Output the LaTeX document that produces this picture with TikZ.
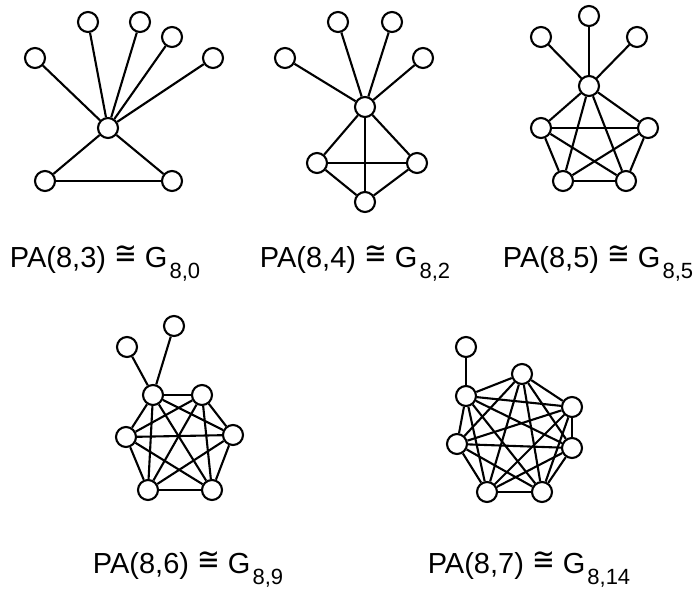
\documentclass[tikz,border=0pt]{standalone}
\usepackage{fontspec}
\setmainfont{Liberation Sans}
\newfontfamily\symfont{DejaVu Sans}
\usetikzlibrary{backgrounds}

\newcommand{\iso}{\raisebox{3pt}{\scalebox{0.85}[1.0]{\fontsize{32}{32}\selectfont\symfont ≅}}}
\newcommand{\pa}[2]{\fontsize{29}{30}\selectfont PA(8,#1) \iso{} G\kern2pt\raisebox{-11pt}{\fontsize{22}{22}\selectfont #2}}

\tikzset{
  vtx/.style={draw, circle, fill=white, minimum size=20pt, inner sep=0pt, line width=2.1pt},
  edge/.style={line width=2.1pt},
  lbl/.style={anchor=base, inner sep=0pt}
}

\begin{document}
\begin{tikzpicture}[x=1pt,y=-1pt]
\useasboundingbox (0,0) rectangle (696,594);

% PA(8,3)
\node[vtx] (a1) at (35,58) {};
\node[vtx] (a2) at (88,22) {};
\node[vtx] (a3) at (140,22) {};
\node[vtx] (a4) at (172,37) {};
\node[vtx] (a5) at (213,58) {};
\node[vtx] (ah) at (108,128) {};
\node[vtx] (al) at (45,181) {};
\node[vtx] (ar) at (172,181) {};
\begin{scope}[on background layer]
\foreach \v in {a1,a2,a3,a4,a5,al,ar} \draw[edge] (ah) -- (\v);
\draw[edge] (al) -- (ar);
\end{scope}
\node[lbl] (la) at (105,267) {\pa{3}{8,0}};

% PA(8,4)
\node[vtx] (b1) at (285,58) {};
\node[vtx] (b2) at (338,22) {};
\node[vtx] (b3) at (392,22) {};
\node[vtx] (b4) at (423,58) {};
\node[vtx] (bh) at (365,107) {};
\node[vtx] (bl) at (317,163) {};
\node[vtx] (br) at (417,163) {};
\node[vtx] (bb) at (365,202) {};
\begin{scope}[on background layer]
\foreach \v in {b1,b2,b3,b4,bl,br,bb} \draw[edge] (bh) -- (\v);
\draw[edge] (bl) -- (br);
\draw[edge] (bl) -- (bb) -- (br);
\end{scope}
\node[lbl] (lb) at (355,267) {\pa{4}{8,2}};

% PA(8,5)
\node[vtx] (c1) at (541,37) {};
\node[vtx] (c2) at (589,16) {};
\node[vtx] (c3) at (637,37) {};
\node[vtx] (ch) at (589,86) {};
\node[vtx] (cl) at (541,128) {};
\node[vtx] (cr) at (648,128) {};
\node[vtx] (cbl) at (563,181) {};
\node[vtx] (cbr) at (626,181) {};
\begin{scope}[on background layer]
\foreach \v in {c1,c2,c3} \draw[edge] (ch) -- (\v);
\foreach \u/\v in {ch/cl,ch/cr,ch/cbl,ch/cbr,cl/cr,cl/cbl,cl/cbr,cr/cbl,cr/cbr,cbl/cbr}
  \draw[edge] (\u) -- (\v);
\end{scope}
\node[lbl] (lc) at (598,267) {\pa{5}{8,5}};

% PA(8,6)
\node[vtx] (d1) at (127,347) {};
\node[vtx] (d2) at (174,326) {};
\node[vtx] (dn1) at (153,395) {};
\node[vtx] (dn2) at (202,395) {};
\node[vtx] (dn3) at (233,435) {};
\node[vtx] (dn4) at (212,490) {};
\node[vtx] (dn5) at (148,490) {};
\node[vtx] (dn6) at (126,437) {};
\begin{scope}[on background layer]
\draw[edge] (dn1) -- (d1);
\draw[edge] (dn1) -- (d2);
\foreach \i in {1,...,5}
  \foreach \j in {\i,...,6}
    {\ifnum\i<\j \draw[edge] (dn\i) -- (dn\j);\fi}
\end{scope}
\node[lbl] (ld) at (188,573) {\pa{6}{8,9}};

% PA(8,7)
\node[vtx] (e0) at (466,347) {};
\node[vtx] (en1) at (466,396) {};
\node[vtx] (en2) at (522,374) {};
\node[vtx] (en3) at (572,407) {};
\node[vtx] (en4) at (572,448) {};
\node[vtx] (en5) at (542,492) {};
\node[vtx] (en6) at (487,492) {};
\node[vtx] (en7) at (457,444) {};
\begin{scope}[on background layer]
\draw[edge] (en1) -- (e0);
\foreach \i in {1,...,6}
  \foreach \j in {\i,...,7}
    {\ifnum\i<\j \draw[edge] (en\i) -- (en\j);\fi}
\end{scope}
\node[lbl] (le) at (529,573) {\pa{7}{8,14}};
\end{tikzpicture}
\end{document}
